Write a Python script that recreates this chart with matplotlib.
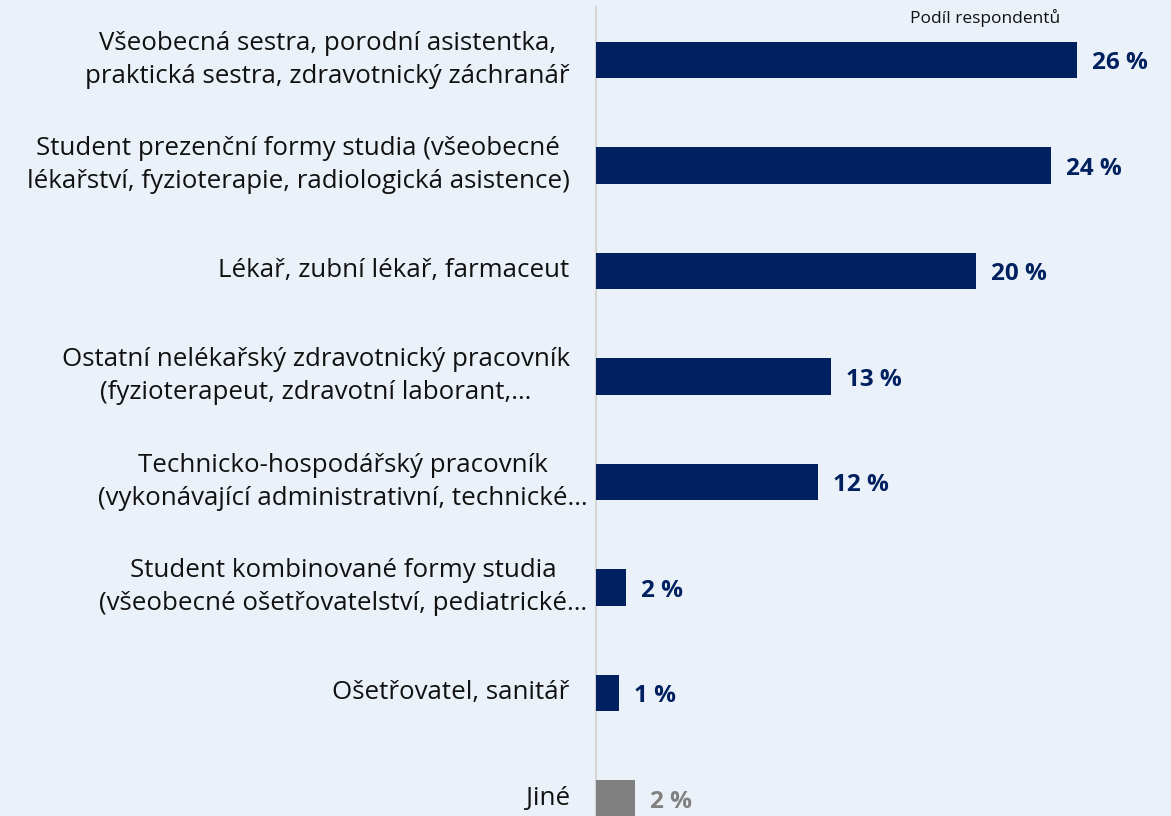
import matplotlib.pyplot as plt

# data
categories = [
    'Všeobecná sestra, porodní asistentka,\npraktická sestra, zdravotnický záchranář',
    'Student prezenční formy studia (všeobecné\nlékařství, fyzioterapie, radiologická asistence)',
    'Lékař, zubní lékař, farmaceut',
    'Ostatní nelékařský zdravotnický pracovník\n(fyzioterapeut, zdravotní laborant,…',
    'Technicko-hospodářský pracovník\n(vykonávající administrativní, technické…',
    'Student kombinované formy studia\n(všeobecné ošetřovatelství, pediatrické…',
    'Ošetřovatel, sanitář',
    'Jiné',
]
shares = [25.6, 24.2, 20.2, 12.5, 11.8, 1.6, 1.2, 2.1]
value_labels = ['26 %', '24 %', '20 %', '13 %', '12 %', '2 %', '1 %', '2 %']

bg = '#eaf1f8'
navy = '#002060'
grey = '#808080'

fig = plt.figure(figsize=(11.71, 8.16), dpi=100, facecolor=bg)
ax = fig.add_axes([596 / 1171, 0, 1 - 596 / 1171, 809 / 816])
ax.set_facecolor(bg)

colors = [navy] * (len(shares) - 1) + [grey]
ypos = list(range(len(shares)))
ax.barh(ypos, shares, height=0.345, color=colors)

ax.set_ylim(7.166, -0.502)
ax.set_xlim(0, 30.6)

for y, v, lab, c in zip(ypos, shares, value_labels, colors):
    ax.text(v + 0.8, y + 0.03, lab, va='center', ha='left', fontsize=17.5,
            fontweight='bold', color=c, family='Open Sans')

for y, cat in zip(ypos, categories):
    lines = cat.split('\n')
    # truncated labels whose last line is the longest spill past the edge
    x = -1.4
    if cat.endswith('…') and len(lines[-1]) > len(lines[0]):
        x = -0.45
    ax.text(x, y, cat, va='center', ha='right', fontsize=18.6,
            color='#111111', family='Open Sans', linespacing=1.42,
            multialignment='center', clip_on=False)

ax.text(0.677, 0.986, 'Podíl respondentů', transform=ax.transAxes,
        ha='center', va='center', fontsize=12.5, color='#111111',
        family='Open Sans')

ax.set_xticks([])
ax.set_yticks([])
for s in ['top', 'right', 'bottom']:
    ax.spines[s].set_visible(False)
ax.spines['left'].set_color('#d4d4d4')
ax.spines['left'].set_linewidth(1.5)
ax.spines['left'].set_zorder(0.5)

fig.savefig('out.png', dpi=100, facecolor=bg)
